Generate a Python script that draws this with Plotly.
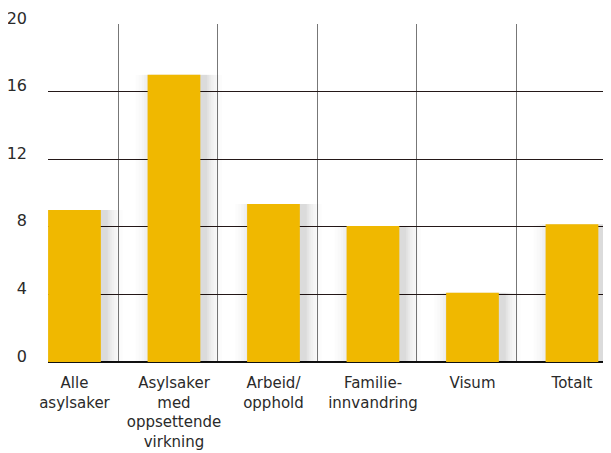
import plotly.graph_objects as go

categories = ["Alle<br>asylsaker", "Asylsaker<br>med<br>oppsettende<br>virkning",
              "Arbeid/<br>opphold", "Familie-<br>innvandring", "Visum", "Totalt"]
values = [9.0, 17.0, 9.35, 8.05, 4.1, 8.15]
y_ticks = [0, 4, 8, 12, 16, 20]

xpos = list(range(len(categories)))
bar_w = 0.53
bar_color = "#F0B800"

fig = go.Figure()

# soft shadow layers
shadow_layers = [(0.17, 0.010), (0.14, 0.013), (0.11, 0.016), (0.085, 0.02),
                 (0.06, 0.024), (0.04, 0.028), (0.02, 0.032)]
for spread, alpha in shadow_layers:
    fig.add_trace(go.Bar(
        x=xpos, y=values, width=bar_w + 2 * spread,
        offset=-(bar_w / 2) - spread + 0.05,
        marker=dict(color=f"rgba(0,0,0,{alpha})", line=dict(width=0)),
        hoverinfo="skip", showlegend=False,
    ))

fig.add_trace(go.Bar(
    x=xpos, y=values, width=bar_w,
    marker=dict(color=bar_color, line=dict(width=0)),
    showlegend=False,
))

fig.update_layout(
    width=619, height=453,
    margin=dict(l=40, r=0, t=16, b=99),
    paper_bgcolor="white", plot_bgcolor="white",
    barmode="overlay",
    font=dict(family="DejaVu Sans, sans-serif", size=15, color="#2a2a2a"),
    xaxis=dict(
        range=[-0.266, 5.553],
        tickmode="array", tickvals=xpos, ticktext=categories,
        showgrid=False, zeroline=False, showline=False,
        ticks="", ticklabelstandoff=10,
        minor=dict(tickmode="linear", tick0=0.44, dtick=1, showgrid=True,
                   gridcolor="#777777", gridwidth=1, ticks=""),
    ),
    yaxis=dict(
        range=[0, 20], tickmode="array", tickvals=y_ticks,
        showgrid=True, gridcolor="#241818", gridwidth=1,
        zeroline=True, zerolinecolor="#111", zerolinewidth=1.5,
        ticks="", ticklabelstandoff=20, ticklabelshift=-6,
        tickfont=dict(size=16),
    ),
)

fig.write_html("out.html")
